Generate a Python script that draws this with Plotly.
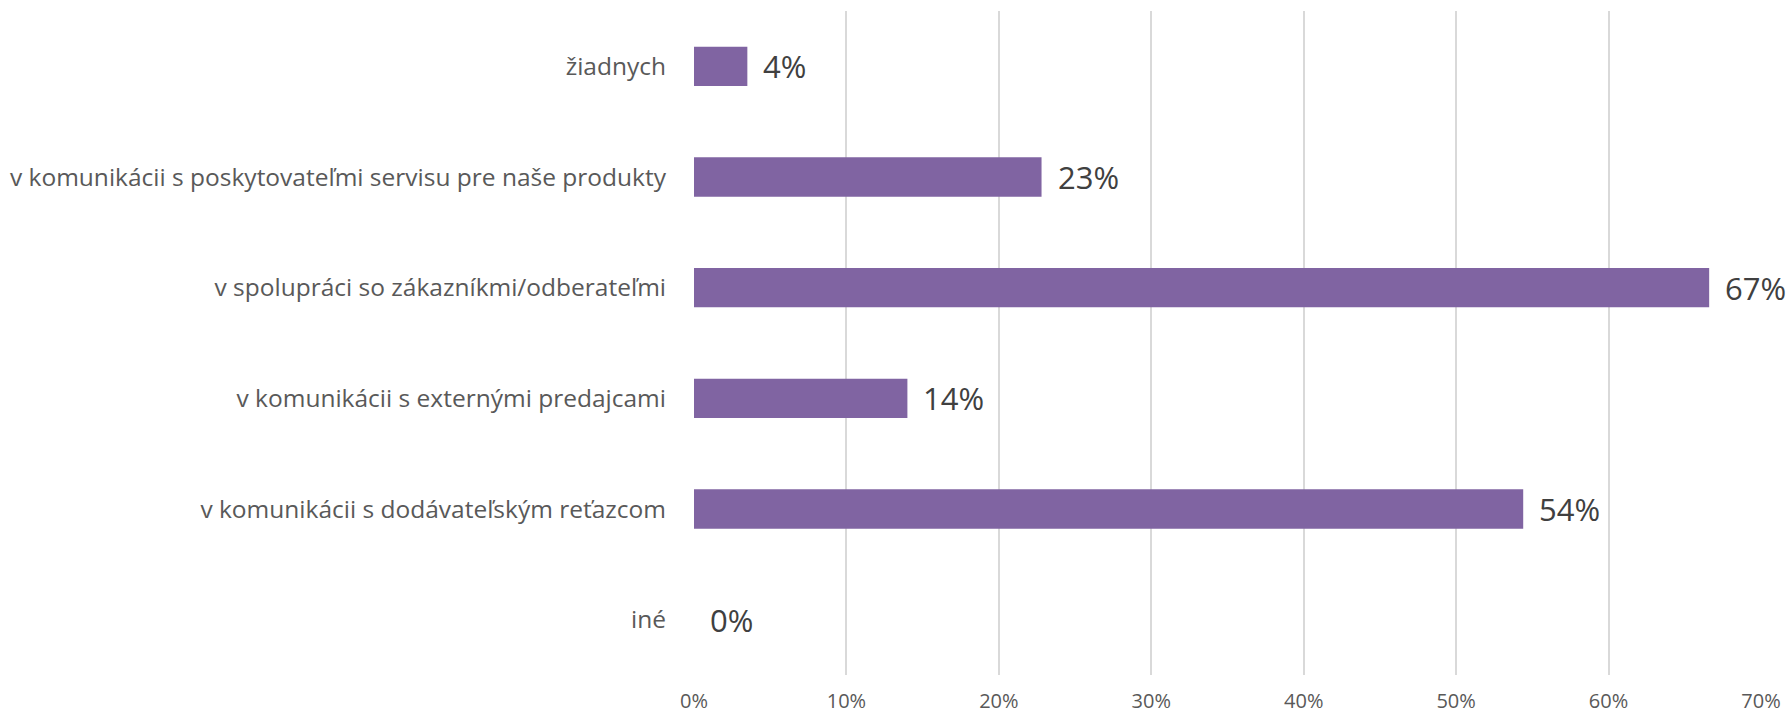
import plotly.graph_objects as go

categories = [
    "žiadnych",
    "v komunikácii s poskytovateľmi servisu pre naše produkty",
    "v spolupráci so zákazníkmi/odberateľmi",
    "v komunikácii s externými predajcami",
    "v komunikácii s dodávateľským reťazcom",
    "iné",
]
values = [0.035, 0.228, 0.666, 0.140, 0.544, 0.0]
tick_vals = [0, 0.1, 0.2, 0.3, 0.4, 0.5, 0.6, 0.7]
tick_text = ["0%", "10%", "20%", "30%", "40%", "50%", "60%", "70%"]

FONT = "Open Sans"
BAR = "#8064A2"

fig = go.Figure()
fig.add_trace(go.Bar(
    y=categories,
    x=values,
    orientation="h",
    marker=dict(color=BAR, line=dict(width=0)),
    width=0.355,
    hoverinfo="skip",
))

for c, v in zip(categories, values):
    fig.add_annotation(
        x=v, y=c, xref="x", yref="y",
        text=f"{round(v * 100):.0f}%",
        showarrow=False, xanchor="left", yanchor="middle",
        xshift=14,
        font=dict(family=FONT, size=31, color="#404040"),
    )

fig.update_layout(
    width=1789, height=716,
    margin=dict(l=694, r=28, t=11, b=41, pad=0),
    paper_bgcolor="white", plot_bgcolor="white",
    showlegend=False,
    font=dict(family=FONT, color="#595959"),
)
fig.update_xaxes(
    range=[0, 0.70],
    tickvals=tick_vals, ticktext=tick_text,
    showgrid=True, gridcolor="#D9D9D9", gridwidth=1.5,
    zeroline=False, showline=False,
    ticks="", ticklabelstandoff=12,
    tickfont=dict(family=FONT, size=20, color="#595959"),
    automargin=False,
    fixedrange=True,
)
fig.update_yaxes(
    categoryorder="array", categoryarray=categories[::-1],
    range=[-0.5, 5.5],
    showgrid=False, zeroline=False, showline=False,
    ticks="", ticklabelstandoff=27,
    tickfont=dict(family=FONT, size=24.5, color="#595959"),
    automargin=False,
    fixedrange=True,
)

fig.write_html(
    "out.html",
    config={"displayModeBar": False},
    post_script="document.body.style.margin='0';document.body.style.overflow='hidden';",
)
